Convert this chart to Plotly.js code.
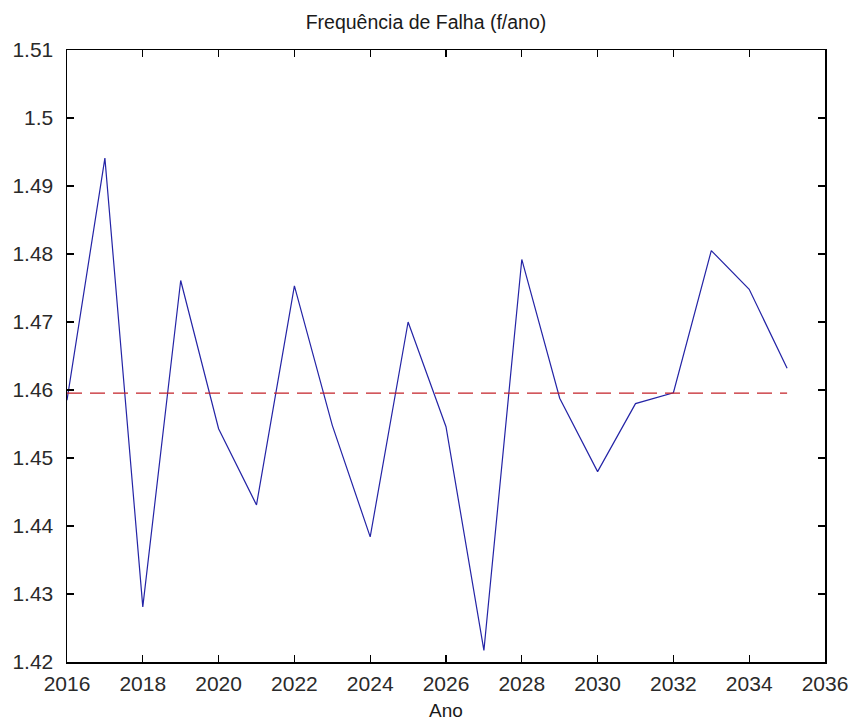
<!DOCTYPE html>
<html>
<head>
<meta charset="utf-8">
<script src="https://cdn.plot.ly/plotly-3.0.1.min.js"></script>
<style>
  html, body { margin: 0; padding: 0; background: #ffffff; }
  #chart { width: 852px; height: 725px; }
</style>
</head>
<body>
<div id="chart"></div>
<script>
// Failure frequency per year (f/ano), 2016-2035
const anos = [2016, 2017, 2018, 2019, 2020, 2021, 2022, 2023, 2024, 2025,
              2026, 2027, 2028, 2029, 2030, 2031, 2032, 2033, 2034, 2035];
const frequencia = [1.4585, 1.4941, 1.4281, 1.4761, 1.4543, 1.4431, 1.4753, 1.4548, 1.4384, 1.4700,
                    1.4546, 1.4217, 1.4792, 1.4588, 1.4480, 1.4580, 1.4596, 1.4805, 1.4748, 1.4632];

// Axis ticks
const xTicks = [2016, 2018, 2020, 2022, 2024, 2026, 2028, 2030, 2032, 2034, 2036];
const yTicks = [1.42, 1.43, 1.44, 1.45, 1.46, 1.47, 1.48, 1.49, 1.50, 1.51];
const yTickLabels = ["1.42", "1.43", "1.44", "1.45", "1.46", "1.47", "1.48", "1.49", "1.5", "1.51"];

// Average over the whole period, drawn as a dashed reference line
const media = frequencia.reduce((a, b) => a + b, 0) / frequencia.length;
const mediaLinha = anos.map(() => media);

const font = "'Liberation Sans', Arial, sans-serif";

const traces = [
  {
    x: anos, y: frequencia, type: "scatter", mode: "lines",
    line: { color: "#2424a6", width: 1.2 },
    hoverinfo: "x+y"
  },
  {
    x: anos, y: mediaLinha, type: "scatter", mode: "lines",
    line: { color: "#c42228", width: 1.2, dash: "15px,8px" },
    hoverinfo: "y"
  }
];

const axisCommon = {
  showline: true, linecolor: "#000000", linewidth: 1.5,
  mirror: "ticks", ticks: "inside", ticklen: 7, tickwidth: 1.2, tickcolor: "#000000",
  showgrid: false, zeroline: false,
  tickfont: { family: font, size: 21, color: "#2a2a2a" }
};

const layout = {
  width: 852, height: 725,
  paper_bgcolor: "#ffffff", plot_bgcolor: "#ffffff",
  showlegend: false,
  margin: { l: 67, r: 27, t: 50, b: 63 },
  title: {
    text: "Frequência de Falha (f/ano)",
    font: { family: font, size: 19.5, color: "#1a1a1a" },
    x: 0.5, xanchor: "center", y: 0.97, yanchor: "middle"
  },
  xaxis: Object.assign({}, axisCommon, {
    range: [2016, 2036],
    tickvals: xTicks,
    ticktext: xTicks.map(String),
    ticklabelstandoff: 2,
    title: { text: "Ano", font: { family: font, size: 19, color: "#1a1a1a" }, standoff: 10 }
  }),
  yaxis: Object.assign({}, axisCommon, {
    range: [1.42, 1.51],
    tickvals: yTicks,
    ticktext: yTickLabels,
    ticklabelstandoff: 8
  })
};

Plotly.newPlot("chart", traces, layout, { displayModeBar: false, staticPlot: true });
</script>
</body>
</html>
